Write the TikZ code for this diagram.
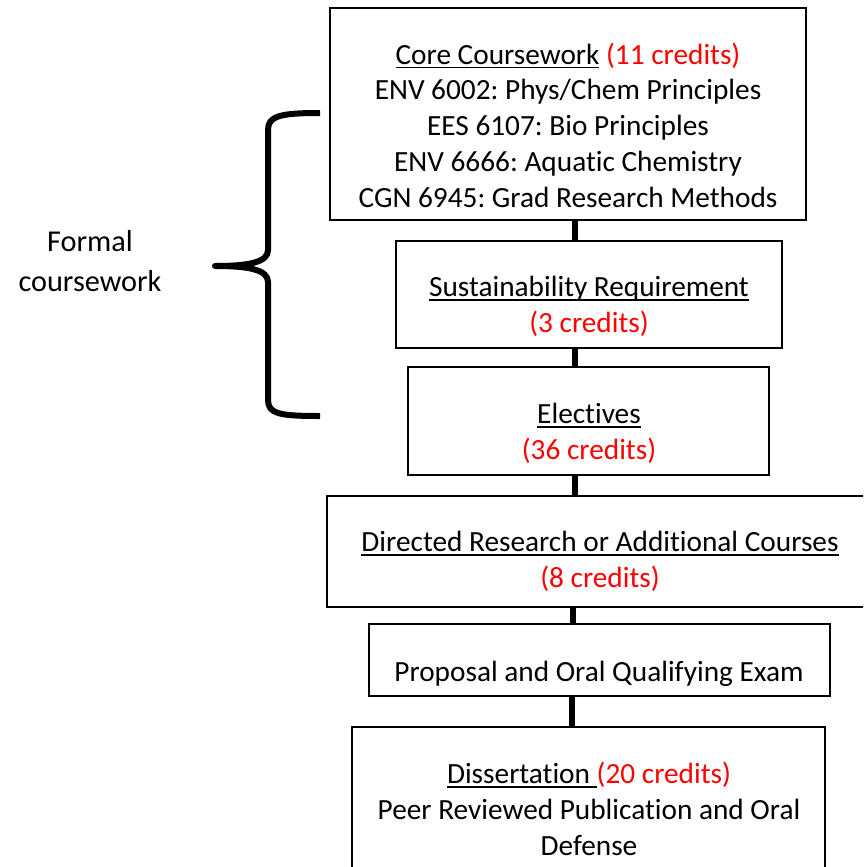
\documentclass[tikz,border=0pt]{standalone}
\usepackage{fontspec}
\setmainfont{Carlito}[Ligatures=NoCommon]
\frenchspacing
\definecolor{credred}{RGB}{255,0,0}
\newcommand\myul[1]{\setbox0\hbox{#1}\rlap{\rule[-4.3pt]{\wd0}{1.8pt}}\box0\relax}
\newcommand\cred[1]{\textcolor{credred}{#1}}
\begin{document}
\begin{tikzpicture}[x=1pt,y=-1pt,
  boxstyle/.style={draw=black, line width=2pt, inner sep=0pt, outer sep=0pt},
  txt/.style={font=\fontsize{29.3}{35.8}\selectfont, align=center, inner sep=0pt},
  link/.style={draw=black, line width=5.5pt},
  bracestyle/.style={draw=black, line width=6pt, line cap=butt, line join=round}]
\useasboundingbox (0,0) rectangle (863,867);
\clip (0,0) rectangle (863,867);
\fill[white] (0,0) rectangle (863,867);
% boxes
\node[boxstyle, minimum width=476pt, minimum height=212pt] (core) at (568,114) {};
\node[boxstyle, minimum width=386pt, minimum height=107pt] (sust) at (589,294.5) {};
\node[boxstyle, minimum width=361pt, minimum height=108pt] (elec) at (588.5,421) {};
\node[boxstyle, minimum width=546pt, minimum height=111pt] (dir) at (600,551) {};
\node[boxstyle, minimum width=461pt, minimum height=72pt] (prop) at (599,660) {};
\node[boxstyle, minimum width=473pt, minimum height=200pt] (diss) at (588.5,827) {};
% texts
\node[txt] (coretext) at (568,125) {\myul{Core Coursework} \cred{(11 credits)}\\ENV 6002: Phys/Chem Principles\\EES 6107: Bio Principles\\ENV 6666: Aquatic Chemistry\\CGN 6945: Grad Research Methods};
\node[txt] (susttext) at (589,306.5) {\myul{Sustainability Requirement}\\\cred{(3 credits)}};
\node[txt] (electext) at (589,433) {\myul{Electives}\\\cred{(36 credits)}};
\node[txt] (dirtext) at (600,561.5) {\myul{Directed Research or Additional Courses}\\\cred{(8 credits)}};
\node[txt] (proptext) at (599,673.5) {Proposal and Oral Qualifying Exam};
\node[txt] (disstext) at (589,809) {\myul{Dissertation\ }\cred{(20 credits)}\\Peer Reviewed Publication and Oral\\Defense};
\node[txt, font=\fontsize{30.3}{40}\selectfont] (formal) at (90,261) {Formal\\coursework};
% connectors
\coordinate (spineA) at (575,0);
\coordinate (spineB) at (573,0);
\coordinate (spineC) at (572,0);
\draw[link] (core.south -| spineA) -- (sust.north -| spineA);
\draw[link] (sust.south -| spineA) -- (elec.north -| spineA);
\draw[link] (elec.south -| spineA) -- (dir.north -| spineA);
\draw[link] (dir.south -| spineB) -- (prop.north -| spineB);
\draw[link] (prop.south -| spineC) -- (diss.north -| spineC);
% brace
\draw[bracestyle] (320,113) .. controls (280,113) and (268,116) .. (268,130)
  -- (268,250) .. controls (268,262) and (250,266) .. (215,266)
  .. controls (250,266) and (268,270) .. (268,282)
  -- (268,400) .. controls (268,414) and (280,416) .. (320,416);
\end{tikzpicture}
\end{document}
